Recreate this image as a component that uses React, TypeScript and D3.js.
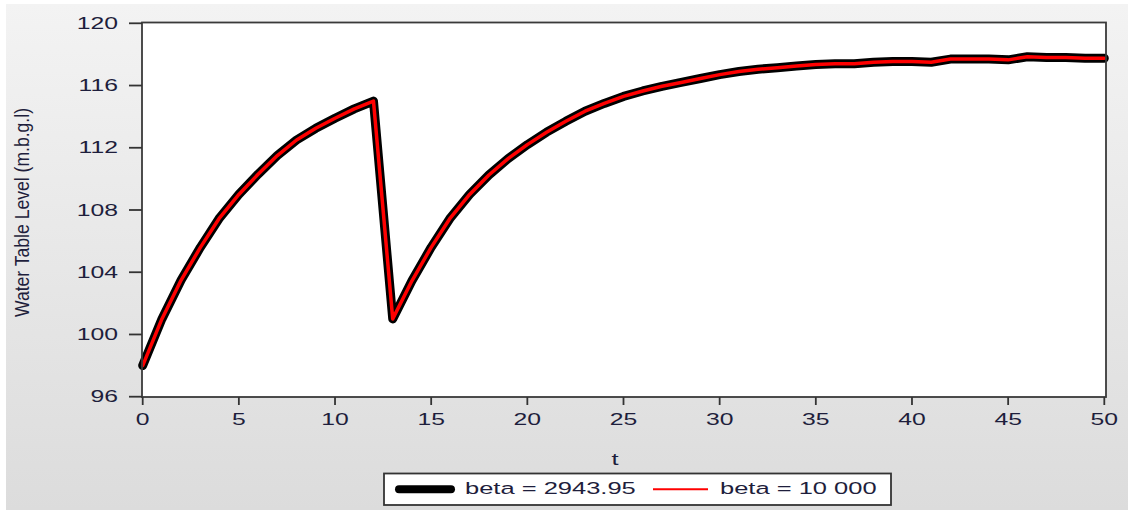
import React from "react";
import * as d3 from "d3";

const tValues: number[] = d3.range(0, 51);
const levels: number[] = [
  98.0, 101.0, 103.5, 105.6, 107.5, 109.0, 110.3, 111.5, 112.5, 113.25,
  113.9, 114.5, 115.0, 101.0, 103.45, 105.6, 107.5, 109.0, 110.25, 111.3,
  112.2, 113.0, 113.7, 114.35, 114.85, 115.3, 115.65, 115.95, 116.2, 116.45,
  116.7, 116.9, 117.05, 117.15, 117.25, 117.35, 117.4, 117.4, 117.5, 117.55,
  117.55, 117.5, 117.7, 117.7, 117.7, 117.65, 117.85, 117.8, 117.8, 117.75,
  117.75,
];
const xTicks: number[] = [0, 5, 10, 15, 20, 25, 30, 35, 40, 45, 50];
const yTicks: number[] = [96, 100, 104, 108, 112, 116, 120];
const seriesNames: string[] = ["beta = 2943.95", "beta = 10 000"];
const yTitle = "Water Table Level (m.b.g.l)";
const xTitle = "t";

const W = 1128;
const H = 510;
const FONT = "'Liberation Sans', Arial, sans-serif";
const TXT = "#1e1e3c";
const SX = 1.5;

export default function App() {
  const x = d3.scaleLinear().domain([0, 50]).range([142.7, 1104.3]);
  const y = d3.scaleLinear().domain([96, 120]).range([396.7, 23.3]);
  const data = tValues.map((t, i) => ({ t, v: levels[i] }));
  const line = d3
    .line<{ t: number; v: number }>()
    .x((d) => x(d.t))
    .y((d) => y(d.v));
  const path = line(data) || "";

  return (
    <svg
      width={W}
      height={H}
      style={{ position: "absolute", left: 0, top: 0 }}
      fontFamily={FONT}
    >
      <defs>
        <linearGradient id="bg" x1="0" y1="0" x2="0" y2="1">
          <stop offset="0" stopColor="#f3f3f3" />
          <stop offset="1" stopColor="#dcdcdc" />
        </linearGradient>
        <filter id="soft" x="-5%" y="-5%" width="110%" height="110%">
          <feGaussianBlur stdDeviation="0.7" />
        </filter>
      </defs>
      <rect x={0} y={0} width={W} height={H} fill="#ffffff" />
      <rect x={6} y={4} width={W - 6} height={H - 4} fill="url(#bg)" />

      {/* plot area */}
      <rect x={142} y={22.5} width={964} height={374.5} fill="#ffffff" />

      {/* series */}
      <path
        d={path}
        fill="none"
        stroke="#000"
        strokeWidth={9}
        strokeLinejoin="round"
        strokeLinecap="round"
        filter="url(#soft)"
      />
      <path
        d={path}
        fill="none"
        stroke="#ff0000"
        strokeWidth={3.5}
        strokeLinejoin="round"
        strokeLinecap="round"
      />

      {/* frame */}
      <rect
        x={142}
        y={22.5}
        width={964}
        height={374.5}
        fill="none"
        stroke="#3a3a3a"
        strokeWidth={1.8}
      />

      {/* y ticks */}
      {yTicks.map((v) => (
        <g key={"y" + v}>
          <line x1={129} x2={142} y1={y(v)} y2={y(v)} stroke="#333" strokeWidth={1.8} />
          <text
            transform={`translate(118,${y(v) + 5.5}) scale(${SX},1)`}
            textAnchor="end"
            fontSize={16.5}
            fill={TXT}
          >
            {v}
          </text>
        </g>
      ))}

      {/* x ticks */}
      {xTicks.map((t) => (
        <g key={"x" + t}>
          <line x1={x(t)} x2={x(t)} y1={397} y2={405} stroke="#333" strokeWidth={1.8} />
          <text
            transform={`translate(${x(t)},425) scale(${SX},1)`}
            textAnchor="middle"
            fontSize={16.5}
            fill={TXT}
          >
            {t}
          </text>
        </g>
      ))}

      {/* axis titles */}
      <text
        transform={`translate(29,212.5) rotate(-90) scale(1,1.2)`}
        textAnchor="middle"
        fontSize={17}
        fill={TXT}
        textLength={209}
        lengthAdjust="spacingAndGlyphs"
      >
        {yTitle}
      </text>
      <text
        transform={`translate(615,465) scale(${SX},1)`}
        textAnchor="middle"
        fontSize={17}
        fill={TXT}
      >
        {xTitle}
      </text>

      {/* legend */}
      <rect x={384} y={473.5} width={507} height={31.5} fill="#fff" stroke="#333" strokeWidth={1.8} />
      <line x1={399} x2={451} y1={489.3} y2={489.3} stroke="#000" strokeWidth={8} strokeLinecap="round" />
      <text
        transform={`translate(465,494) scale(${SX},1)`}
        fontSize={17}
        fill={TXT}
      >
        {seriesNames[0]}
      </text>
      <line x1={653} x2={708} y1={489.3} y2={489.3} stroke="#ff0000" strokeWidth={2} />
      <text
        transform={`translate(720,494) scale(${SX},1)`}
        fontSize={17}
        fill={TXT}
      >
        {seriesNames[1]}
      </text>
    </svg>
  );
}
